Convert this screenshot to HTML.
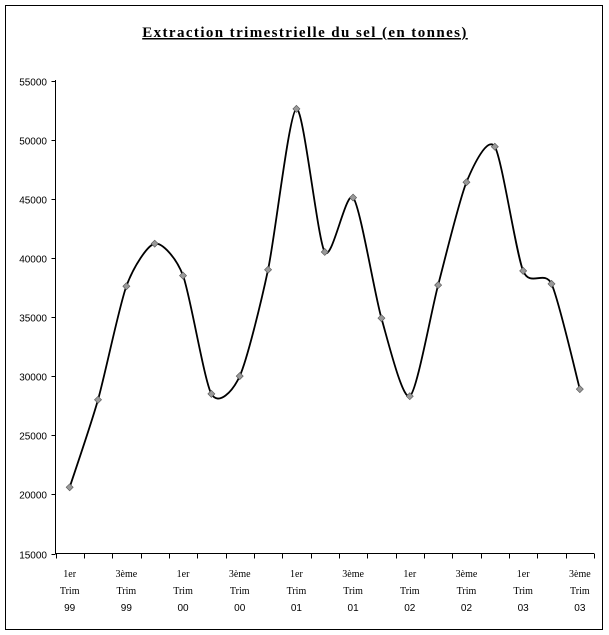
<!DOCTYPE html>
<html><head><meta charset="utf-8"><style>
html,body{margin:0;padding:0;background:#fff;}
svg{display:block;}
</style></head><body>
<svg id="s" width="609" height="635" xmlns="http://www.w3.org/2000/svg">
<rect x="5.5" y="5.5" width="597" height="624" fill="#fff" stroke="#000" stroke-width="1"/>
<text x="305" y="37" text-anchor="middle" font-family="Liberation Serif, serif" font-weight="bold" font-size="15" letter-spacing="1.4" text-decoration="underline">Extraction trimestrielle du sel (en tonnes)</text>
<g id="ax" stroke="#000" stroke-width="1" fill="none"></g>
<g id="lbl" font-family="Liberation Sans, sans-serif" font-size="10" fill="#000"></g>
<path id="curve" fill="none" stroke="#000" stroke-width="1.8"/>
<g id="pts"></g>
</svg>
<script>
var NS="http://www.w3.org/2000/svg";
var x0=55.5,x1=594,y15=553.5,yPer=(553.5-80.5)/40000;
function Y(v){return y15-(v-15000)*yPer;}
var ax=document.getElementById('ax'),lbl=document.getElementById('lbl');
var d="M"+x0+" 80 V"+y15+" H"+x1;
for(var v=15000;v<=55000;v+=5000){var y=Math.round(Y(v))+0.5;d+=" M"+(x0-4)+" "+y+" H"+x0;
var t=document.createElementNS(NS,'text');t.setAttribute('x',47);t.setAttribute('y',y+4);t.setAttribute('text-anchor','end');t.textContent=v;lbl.appendChild(t);}
var w=(x1-x0)/19;
for(var i=0;i<=19;i++){var x=Math.round(x0+i*w)+0.5;d+=" M"+x+" "+y15+" V"+(y15+5);}
var p=document.createElementNS(NS,'path');p.setAttribute('d',d);ax.appendChild(p);
var yrs=["99","99","00","00","01","01","02","02","03","03"];
for(var k=0;k<10;k++){var cx=x0+(2*k+0.5)*w;var lines=[k%2?"3ème":"1er","Trim",yrs[k]];
for(var j=0;j<3;j++){var t=document.createElementNS(NS,'text');t.setAttribute('x',cx);t.setAttribute('y',577+j*17);t.setAttribute('text-anchor','middle');
if(j<2)t.setAttribute('font-family','Liberation Serif, serif');t.textContent=lines[j];lbl.appendChild(t);}}
var vals=[20600,28000,37600,41200,38500,28500,30000,39000,52600,40500,45100,34900,28300,37700,46400,49400,38900,37800,28900];
var P=vals.map(function(v,i){return [x0+(i+0.5)*w,Y(v)];});
var c="M"+P[0][0]+" "+P[0][1];var K=8;
for(var i=0;i<P.length-1;i++){var a=P[i-1]||P[i],b=P[i],e=P[i+1],f=P[i+2]||e;
c+=" C"+(b[0]+(e[0]-a[0])/K)+" "+(b[1]+(e[1]-a[1])/K)+" "+(e[0]-(f[0]-b[0])/K)+" "+(e[1]-(f[1]-b[1])/K)+" "+e[0]+" "+e[1];}
document.getElementById('curve').setAttribute('d',c);
var g=document.getElementById('pts');
P.forEach(function(q){var r=document.createElementNS(NS,'rect');r.setAttribute('x',q[0]-2.5);r.setAttribute('y',q[1]-2.5);r.setAttribute('width',5);r.setAttribute('height',5);
r.setAttribute('fill','#999');r.setAttribute('stroke','#555');r.setAttribute('stroke-width','0.6');r.setAttribute('transform','rotate(45 '+q[0]+' '+q[1]+')');g.appendChild(r);});
</script>
</body></html>
